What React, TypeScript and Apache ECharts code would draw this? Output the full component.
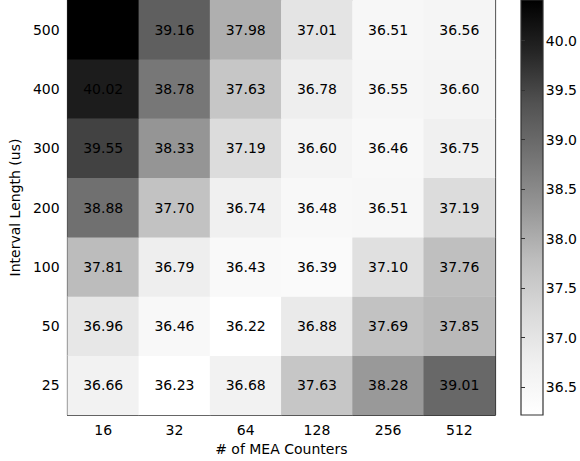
import React, { useEffect, useRef } from "react";
import * as echarts from "echarts";

const counters = ["16", "32", "64", "128", "256", "512"];
const intervals = ["25", "50", "100", "200", "300", "400", "500"];
// rows listed bottom (25) to top (500)
const row25 = [36.66, 36.23, 36.68, 37.63, 38.28, 39.01];
const row50 = [36.96, 36.46, 36.22, 36.88, 37.69, 37.85];
const row100 = [37.81, 36.79, 36.43, 36.39, 37.1, 37.76];
const row200 = [38.88, 37.7, 36.74, 36.48, 36.51, 37.19];
const row300 = [39.55, 38.33, 37.19, 36.6, 36.46, 36.75];
const row400 = [40.02, 38.78, 37.63, 36.78, 36.55, 36.6];
const row500 = [40.41, 39.16, 37.98, 37.01, 36.51, 36.56];
const rows = [row25, row50, row100, row200, row300, row400, row500];
const colorMin = 36.22;
const colorMax = 40.41;
const colorbarTicks = [36.5, 37.0, 37.5, 38.0, 38.5, 39.0, 39.5, 40.0];
// matplotlib "Greys" colormap stops (low -> high)
const greys = ["#ffffff", "#f0f0f0", "#d9d9d9", "#bdbdbd", "#969696", "#737373", "#525252", "#252525", "#000000"];

const FONT = "DejaVu Sans";
const AXIS_COLOR = "#333";

export default function App() {
  const ref = useRef<HTMLDivElement>(null);
  useEffect(() => {
    if (!ref.current) return;
    const chart = echarts.init(ref.current, null, { renderer: "svg" });
    const data: [number, number, number][] = [];
    rows.forEach((r, yi) => r.forEach((v, xi) => data.push([xi, yi, v])));

    const gridL = 62, gridR = 495, gridT = 0, gridB = 417;
    const cbL = 521, cbR = 543, cbT = 0, cbB = 415;

    const axisLine = { show: true, lineStyle: { color: AXIS_COLOR, width: 1.2 } };
    const tickIn = { show: true, inside: true, length: 5, alignWithLabel: true, lineStyle: { color: AXIS_COLOR } };
    const lbl = { color: "#000", fontSize: 14, fontFamily: FONT };

    chart.setOption({
      animation: false,
      grid: [
        { left: gridL, top: gridT, width: gridR - gridL, height: gridB - gridT },
        { left: cbL, top: cbT, width: cbR - cbL, height: cbB - cbT },
      ],
      xAxis: [
        {
          type: "category", data: counters, gridIndex: 0, position: "bottom",
          axisLine, axisTick: tickIn, axisLabel: { ...lbl, margin: 8 },
          name: "# of MEA Counters", nameLocation: "middle", nameGap: 27,
          nameTextStyle: { ...lbl },
          splitLine: { show: false },
        },
        {
          type: "category", data: counters, gridIndex: 0, position: "top",
          axisLine, axisTick: tickIn, axisLabel: { show: false }, splitLine: { show: false },
        },
        { type: "value", gridIndex: 1, show: false, min: 0, max: 1 },
      ],
      yAxis: [
        {
          type: "category", data: intervals, gridIndex: 0, position: "left",
          axisLine, axisTick: tickIn, axisLabel: { ...lbl, margin: 8 },
          name: "Interval Length (us)", nameLocation: "middle", nameGap: 38,
          nameTextStyle: { ...lbl },
          splitLine: { show: false },
        },
        {
          type: "category", data: intervals, gridIndex: 0, position: "right",
          axisLine, axisTick: tickIn, axisLabel: { show: false }, splitLine: { show: false },
        },
        {
          type: "value", gridIndex: 1, position: "right", min: colorMin, max: colorMax,
          axisLine: { show: false },
          axisTick: { show: true, inside: false, length: 4, customValues: colorbarTicks, lineStyle: { color: AXIS_COLOR } },
          axisLabel: { ...lbl, margin: 6, customValues: colorbarTicks, formatter: (v: number) => Number(v).toFixed(1) },
          splitLine: { show: false },
        },
      ],
      visualMap: {
        show: false, type: "continuous", min: colorMin, max: colorMax, dimension: 2, seriesIndex: 0,
        inRange: { color: greys },
      },
      graphic: [
        {
          type: "rect",
          shape: { x: cbL, y: cbT, width: cbR - cbL, height: cbB - cbT },
          style: {
            fill: new echarts.graphic.LinearGradient(0, 1, 0, 0,
              greys.map((c, i) => ({ offset: i / (greys.length - 1), color: c }))),
            stroke: AXIS_COLOR, lineWidth: 1.2,
          },
          z: -1,
        },
      ],
      series: [
        {
          type: "heatmap", xAxisIndex: 0, yAxisIndex: 0, data,
          label: {
            show: true, color: "#000", fontSize: 14, fontFamily: FONT,
            formatter: (p: any) => p.value[2].toFixed(2),
          },
          itemStyle: { borderWidth: 0 },
          emphasis: { disabled: true },
        },
      ],
    });
    return () => chart.dispose();
  }, []);
  return <div ref={ref} style={{ position: "absolute", left: 0, top: 0, width: 580, height: 461 }} />;
}
